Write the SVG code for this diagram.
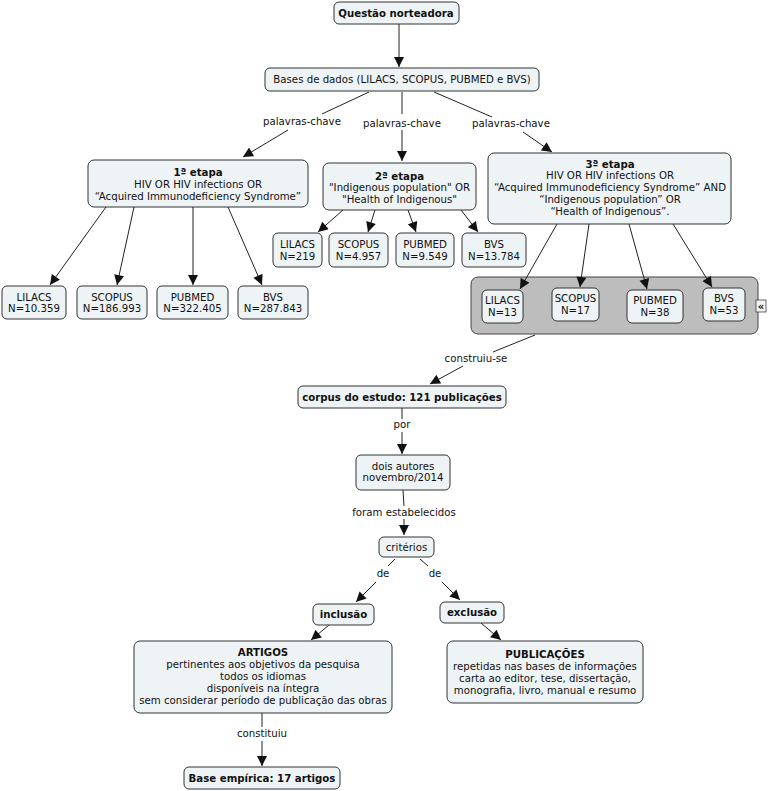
<svg xmlns="http://www.w3.org/2000/svg" width="768" height="791" viewBox="0 0 768 791">
<style>
text{font-family:"DejaVu Sans",Verdana,sans-serif;font-size:10.2px;fill:#111;text-anchor:middle}
.b{font-weight:bold}
.n{fill:#eef3f5;stroke:#333;stroke-width:1}
.g{fill:#bdbdbd;stroke:#444;stroke-width:1}
.c line{stroke:#222;stroke-width:1}
.a{marker-end:url(#ah)}
</style>
<defs>
<marker id="ah" viewBox="0 0 10 10" refX="10" refY="5" markerWidth="11" markerHeight="10" orient="auto" markerUnits="userSpaceOnUse"><path d="M0,0 L10,5 L0,10 z" fill="#111"/></marker>
</defs>
<rect width="768" height="791" fill="#fff"/>
<g id="grupo3">
<rect class="g" x="471" y="277" width="287" height="57" rx="7"/>
<rect x="756" y="300" width="10" height="12" fill="#eef3f5" stroke="#444" stroke-width="0.8"/>
<text x="761" y="309.5" class="b" style="font-size:10px">«</text>
</g>
<g class="c" id="connectors">
<line class="a" x1="399" y1="24" x2="399" y2="67"/>
<line x1="369" y1="92" x2="322" y2="114"/>
<line class="a" x1="288" y1="130" x2="243" y2="157"/>
<line x1="402" y1="92" x2="402" y2="114"/>
<line class="a" x1="402" y1="130" x2="402" y2="161"/>
<line x1="434" y1="92" x2="492" y2="117"/>
<line class="a" x1="523" y1="132" x2="552" y2="152"/>
<line class="a" x1="106" y1="207" x2="50" y2="285"/>
<line class="a" x1="134" y1="207" x2="117" y2="285"/>
<line class="a" x1="193" y1="207" x2="193" y2="285"/>
<line class="a" x1="228" y1="207" x2="262" y2="285"/>
<line class="a" x1="343" y1="210" x2="318" y2="232"/>
<line class="a" x1="375" y1="210" x2="368" y2="232"/>
<line class="a" x1="408" y1="210" x2="416" y2="232"/>
<line class="a" x1="461" y1="210" x2="478" y2="232"/>
<line class="a" x1="557" y1="224" x2="520" y2="289"/>
<line class="a" x1="589" y1="224" x2="580" y2="287"/>
<line class="a" x1="629" y1="224" x2="647" y2="289"/>
<line class="a" x1="673" y1="224" x2="712" y2="287"/>
<line x1="535" y1="335" x2="493" y2="352"/>
<line class="a" x1="463" y1="366" x2="430" y2="384"/>
<line x1="402" y1="408" x2="402" y2="419"/>
<line class="a" x1="402" y1="432" x2="402" y2="454"/>
<line x1="403" y1="490" x2="404" y2="506"/>
<line class="a" x1="404" y1="519" x2="404" y2="535"/>
<line x1="395" y1="559" x2="388" y2="566"/>
<line class="a" x1="376" y1="582" x2="356" y2="602"/>
<line x1="420" y1="559" x2="428" y2="566"/>
<line class="a" x1="442" y1="582" x2="460" y2="600"/>
<line class="a" x1="329" y1="625" x2="311" y2="640"/>
<line class="a" x1="481" y1="623" x2="501" y2="640"/>
<line x1="262" y1="713" x2="262" y2="727"/>
<line class="a" x1="262" y1="741" x2="262" y2="766"/>
<text x="302" y="125">palavras-chave</text>
<text x="402" y="127">palavras-chave</text>
<text x="511" y="127">palavras-chave</text>
<text x="476" y="362">construiu-se</text>
<text x="402" y="428">por</text>
<text x="404" y="516">foram estabelecidos</text>
<text x="383" y="577">de</text>
<text x="435" y="577">de</text>
<text x="262" y="737">constituiu</text>
</g>
<g id="questao"><rect class="n" x="334" y="2" width="125" height="22" rx="5"/><text class="b" x="396" y="17">Questão norteadora</text></g>
<g id="bases"><rect class="n" x="265" y="68" width="274" height="23" rx="5"/><text x="402" y="83">Bases de dados (LILACS, SCOPUS, PUBMED e BVS)</text></g>
<g id="etapa1"><rect class="n" x="88" y="160" width="220" height="47" rx="6"/>
<text class="b" x="198" y="175.5">1ª etapa</text><text x="198" y="187.5">HIV OR HIV infections OR</text><text x="198" y="199.5">“Acquired Immunodeficiency Syndrome”</text></g>
<g id="e1lilacs"><rect class="n" x="2" y="286" width="64" height="33" rx="5"/><text x="34" y="300.5">LILACS</text><text x="34" y="312">N=10.359</text></g>
<g id="e1scopus"><rect class="n" x="77" y="286" width="70" height="33" rx="5"/><text x="112" y="300.5">SCOPUS</text><text x="112" y="312">N=186.993</text></g>
<g id="e1pubmed"><rect class="n" x="157" y="286" width="71" height="33" rx="5"/><text x="192.5" y="300.5">PUBMED</text><text x="192.5" y="312">N=322.405</text></g>
<g id="e1bvs"><rect class="n" x="238" y="286" width="70" height="33" rx="5"/><text x="273" y="300.5">BVS</text><text x="273" y="312">N=287.843</text></g>
<g id="etapa2"><rect class="n" x="323" y="163" width="153" height="47" rx="6"/>
<text class="b" x="399.5" y="179.5">2ª etapa</text><text x="399.5" y="191">"Indigenous population" OR</text><text x="399.5" y="202.5">"Health of Indigenous"</text></g>
<g id="e2lilacs"><rect class="n" x="273" y="233" width="49" height="34" rx="5"/><text x="297.5" y="247.5">LILACS</text><text x="297.5" y="259.5">N=219</text></g>
<g id="e2scopus"><rect class="n" x="329" y="233" width="59" height="34" rx="5"/><text x="358.5" y="247.5">SCOPUS</text><text x="358.5" y="259.5">N=4.957</text></g>
<g id="e2pubmed"><rect class="n" x="396" y="233" width="58" height="34" rx="5"/><text x="425" y="247.5">PUBMED</text><text x="425" y="259.5">N=9.549</text></g>
<g id="e2bvs"><rect class="n" x="462" y="233" width="64" height="34" rx="5"/><text x="494" y="247.5">BVS</text><text x="494" y="259.5">N=13.784</text></g>
<g id="etapa3"><rect class="n" x="488" y="153" width="243" height="71" rx="6"/>
<text class="b" x="610" y="167.5">3ª etapa</text><text x="610" y="179.3">HIV OR HIV infections OR</text><text x="610" y="191">“Acquired Immunodeficiency Syndrome” AND</text><text x="610" y="202.8">“Indigenous population” OR</text><text x="610" y="214.5">“Health of Indigenous”.</text></g>
<g id="e3lilacs"><rect class="n" x="482" y="290" width="41" height="33" rx="5"/><text x="502.5" y="303.5">LILACS</text><text x="502.5" y="316">N=13</text></g>
<g id="e3scopus"><rect class="n" x="552" y="288" width="47" height="33" rx="5"/><text x="575.5" y="301.5">SCOPUS</text><text x="575.5" y="314">N=17</text></g>
<g id="e3pubmed"><rect class="n" x="627" y="290" width="56" height="33" rx="5"/><text x="655" y="303.5">PUBMED</text><text x="655" y="316">N=38</text></g>
<g id="e3bvs"><rect class="n" x="703" y="288" width="42" height="33" rx="5"/><text x="724" y="301.5">BVS</text><text x="724" y="314">N=53</text></g>
<g id="corpus"><rect class="n" x="298" y="386" width="208" height="22" rx="5"/><text class="b" x="402" y="401">corpus do estudo: 121 publicações</text></g>
<g id="dois"><rect class="n" x="356" y="455" width="94" height="35" rx="5"/><text x="403" y="469.5">dois autores</text><text x="403" y="481">novembro/2014</text></g>
<g id="criterios"><rect class="n" x="379" y="537" width="55" height="20" rx="5"/><text x="406.5" y="551">critérios</text></g>
<g id="inclusao"><rect class="n" x="313" y="604" width="61" height="21" rx="5"/><text class="b" x="343.5" y="618">inclusão</text></g>
<g id="exclusao"><rect class="n" x="440" y="602" width="64" height="21" rx="5"/><text class="b" x="472" y="616">exclusão</text></g>
<g id="artigos"><rect class="n" x="134" y="641" width="258" height="72" rx="6"/>
<text class="b" x="263" y="655.5">ARTIGOS</text><text x="263" y="667.5">pertinentes aos objetivos da pesquisa</text><text x="263" y="679.5">todos os idiomas</text><text x="263" y="691.5">disponíveis na íntegra</text><text x="263" y="703.5">sem considerar período de publicação das obras</text></g>
<g id="publicacoes"><rect class="n" x="447" y="641" width="196" height="62" rx="6"/>
<text class="b" x="545" y="657.5">PUBLICAÇÕES</text><text x="545" y="669.5">repetidas nas bases de informações</text><text x="545" y="681.5">carta ao editor, tese, dissertação,</text><text x="545" y="693.5">monografia, livro, manual e resumo</text></g>
<g id="baseempirica"><rect class="n" x="184" y="767" width="156" height="22" rx="5"/><text class="b" x="262" y="781.5">Base empírica: 17 artigos</text></g>
</svg>
